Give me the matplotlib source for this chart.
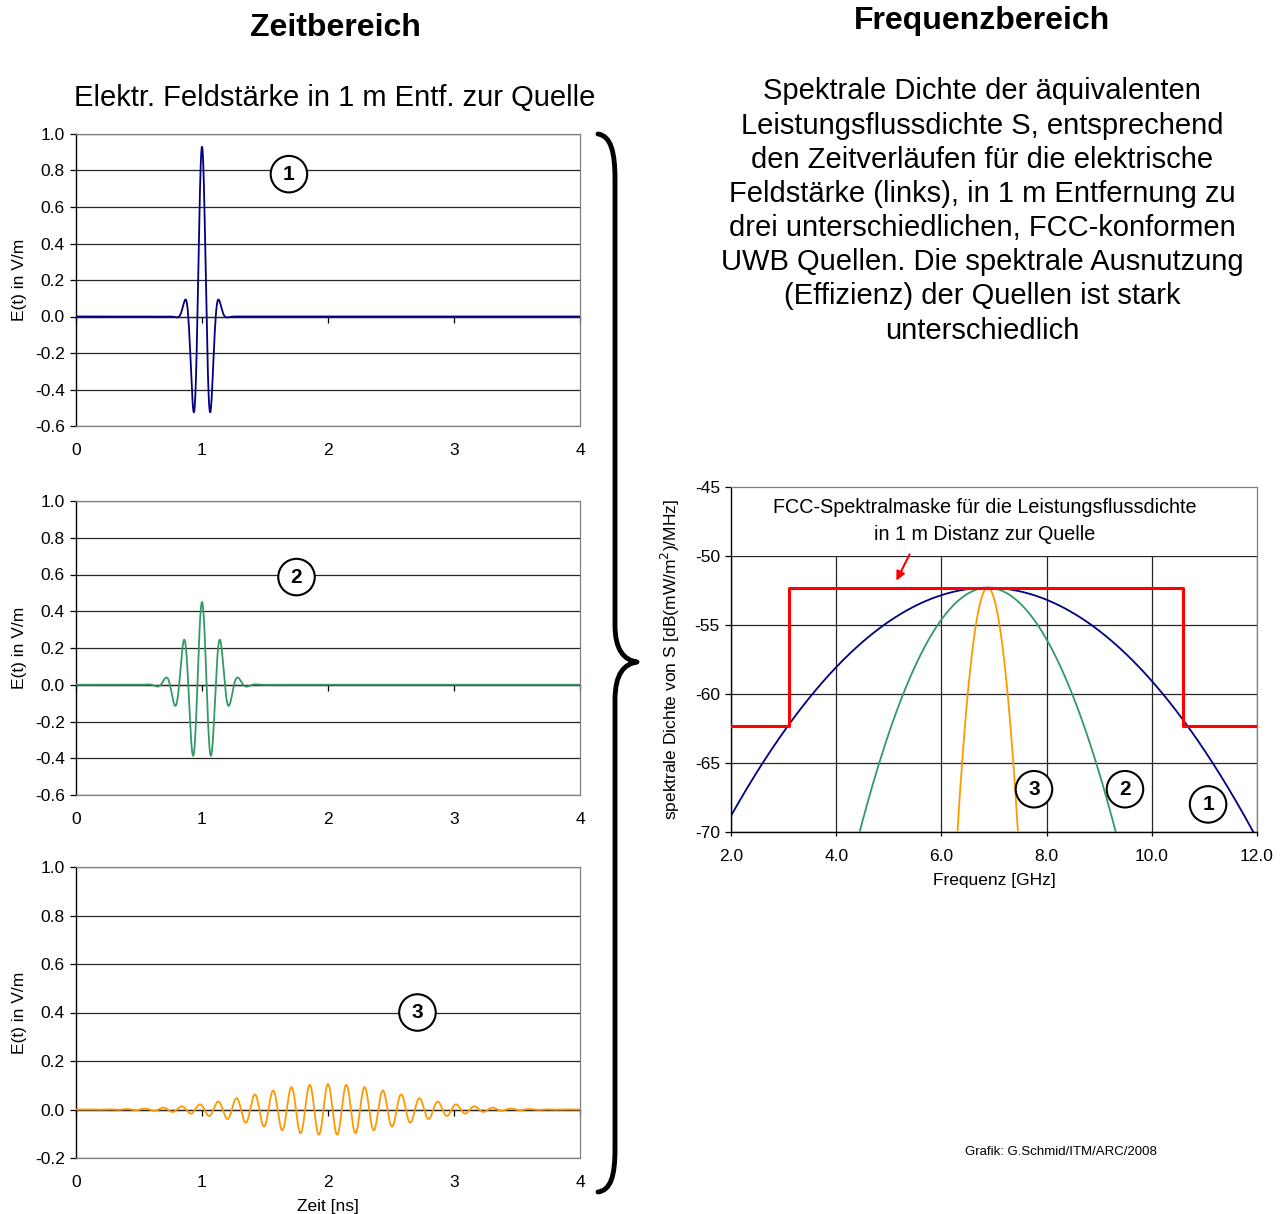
import numpy as np
import matplotlib
matplotlib.use("Agg")
import matplotlib.pyplot as plt
from matplotlib.path import Path
from matplotlib.patches import PathPatch
from matplotlib.ticker import FormatStrFormatter

plt.rcParams["font.family"] = ["Liberation Sans", "DejaVu Sans"]
plt.rcParams["axes.unicode_minus"] = False

# time-domain pulses: Gaussian-enveloped carrier
carrier_ghz = 6.88
pulse_amp = [0.93, 0.45, 0.105]        # V/m
pulse_center = [1.0, 1.0, 2.0]         # ns
pulse_sigma = [0.064, 0.13, 0.57]      # ns
pulse_ylim = [(-0.6, 1.0), (-0.6, 1.0), (-0.2, 1.0)]
pulse_labels = ["1", "2", "3"]
pulse_label_pos = [(1.69, 0.78), (1.75, 0.586), (2.71, 0.40)]
colors = ["#000080", "#339966", "#FF9900"]

# spectra (dB parabolas)
spec_peak_db = -52.3
spec_center = [6.88, 6.88, 6.88]       # GHz
spec_curv = [0.694, 2.985, 53.5]       # dB per GHz^2
spec_label_pos = [(11.07, -68.0), (9.49, -66.9), (7.76, -66.9)]

# FCC mask
mask_f = [2.0, 3.1, 3.1, 10.6, 10.6, 12.0]
mask_db = [-62.3, -62.3, -52.3, -52.3, -62.3, -62.3]

t = np.linspace(0, 4, 4001)
f = np.linspace(2, 12, 2001)

W, H = 1288, 1214
fig = plt.figure(figsize=(W / 100, H / 100), dpi=100)


def px_box(left, top, right, bottom):
    return [left / W, 1 - bottom / H, (right - left) / W, (bottom - top) / H]


def circ_label(ax, x, y, s):
    ax.text(x, y, s, ha="center", va="center", fontsize=15, fontweight="bold",
            zorder=10, bbox=dict(boxstyle="circle,pad=0.42", fc="white", ec="black", lw=1.5))


time_boxes = [(76, 134, 580, 426), (76, 501, 580, 795), (76, 867, 580, 1158)]
grid_col = "#262626"

for i in range(3):
    ax = fig.add_axes(px_box(*time_boxes[i]))
    env = np.exp(-((t - pulse_center[i]) ** 2) / (2 * pulse_sigma[i] ** 2))
    e = pulse_amp[i] * env * np.cos(2 * np.pi * carrier_ghz * (t - pulse_center[i]))
    ax.plot(t, e, color=colors[i], lw=1.3, zorder=5)
    ymin, ymax = pulse_ylim[i]
    ax.set_xlim(0, 4)
    ax.set_ylim(ymin, ymax)
    ax.set_yticks(np.arange(ymin, ymax + 0.001, 0.2))
    ax.yaxis.set_major_formatter(FormatStrFormatter("%.1f"))
    ax.set_xticks(range(5))
    ax.grid(axis="y", color=grid_col, lw=0.9)
    ax.tick_params(axis="x", length=0, pad=12, labelsize=12.5)
    ax.tick_params(axis="y", direction="out", length=4, width=0.9, pad=4, labelsize=12.5)
    for s in ["top", "right", "bottom"]:
        ax.spines[s].set_color("#808080")
        ax.spines[s].set_linewidth(0.9)
    ax.spines["left"].set_color("black")
    ax.spines["left"].set_linewidth(1.0)
    # x axis crossing at zero
    y0 = (0 - ymin) / (ymax - ymin)
    sec = ax.secondary_xaxis(y0)
    sec.set_xticks(range(5))
    sec.tick_params(direction="out", length=4, width=0.9, labelbottom=False, labeltop=False)
    sec.spines["bottom"].set_color("black")
    sec.spines["bottom"].set_linewidth(0.9)
    ax.set_ylabel("E(t) in V/m", fontsize=12.5)
    ax.yaxis.set_label_coords(-0.097, 0.5)
    circ_label(ax, *pulse_label_pos[i], pulse_labels[i])
    if i == 2:
        ax.set_xlabel("Zeit [ns]", fontsize=12.5)
        ax.xaxis.set_label_coords(0.5, -0.142)

# frequency domain
axf = fig.add_axes(px_box(731, 487, 1257, 832))
axf.plot(mask_f, mask_db, color="#FF0000", lw=2.2, zorder=6)
for i in range(3):
    s = spec_peak_db - spec_curv[i] * (f - spec_center[i]) ** 2
    axf.plot(f, s, color=colors[i], lw=1.3, zorder=5)
axf.set_xlim(2, 12)
axf.set_ylim(-70, -45)
axf.set_xticks(np.arange(2, 12.1, 2))
axf.set_yticks(np.arange(-70, -44, 5))
axf.xaxis.set_major_formatter(FormatStrFormatter("%.1f"))
axf.yaxis.set_major_formatter(FormatStrFormatter("%d"))
axf.grid(True, color=grid_col, lw=0.9)
# blank band behind the mask caption (no grid above -50 dB)
axf.axhspan(-50, -45, color="white", lw=0, zorder=2)
axf.tick_params(axis="x", direction="out", length=3, width=0.9, pad=9, labelsize=12.5)
axf.tick_params(axis="y", direction="out", length=4, width=0.9, pad=4, labelsize=12.5)
for s in ["top", "right"]:
    axf.spines[s].set_color("#808080")
    axf.spines[s].set_linewidth(0.9)
for s in ["left", "bottom"]:
    axf.spines[s].set_color("black")
    axf.spines[s].set_linewidth(1.0)
axf.set_xlabel("Frequenz [GHz]", fontsize=12.5)
axf.xaxis.set_label_coords(0.5, -0.118)
axf.set_ylabel("spektrale Dichte von S [dB(mW/m$^2$)/MHz]", fontsize=12.5)
axf.yaxis.set_label_coords(-0.093, 0.5)
axf.text(0.483, 0.902, "FCC-Spektralmaske für die Leistungsflussdichte\nin 1 m Distanz zur Quelle",
         transform=axf.transAxes, ha="center", va="center", fontsize=14.2,
         linespacing=1.55, zorder=7)
axf.annotate("", xy=(5.12, -51.96), xytext=(5.42, -49.7),
             arrowprops=dict(arrowstyle="-|>", color="#FF0000", lw=1.5, mutation_scale=13), zorder=8)
for i in range(3):
    circ_label(axf, *spec_label_pos[i], pulse_labels[i])

# titles and texts
fig.text(335 / W, 1 - 28 / H, "Zeitbereich", ha="center", va="center", fontsize=23, fontweight="bold")
fig.text(982 / W, 1 - 21 / H, "Frequenzbereich", ha="center", va="center", fontsize=23, fontweight="bold")
fig.text(335 / W, 1 - 98 / H, "Elektr. Feldstärke in 1 m Entf. zur Quelle", ha="center", va="center", fontsize=21)
fig.text(982 / W, 1 - 211 / H,
         "Spektrale Dichte der äquivalenten\nLeistungsflussdichte S, entsprechend\n"
         "den Zeitverläufen für die elektrische\nFeldstärke (links), in 1 m Entfernung zu\n"
         "drei unterschiedlichen, FCC-konformen\nUWB Quellen. Die spektrale Ausnutzung\n"
         "(Effizienz) der Quellen ist stark\nunterschiedlich",
         ha="center", va="center", fontsize=21, linespacing=1.28)
fig.text(1061 / W, 1 - 1152 / H, "Grafik: G.Schmid/ITM/ARC/2008", ha="center", va="center",
         fontsize=9.5)

# curly brace
pts = [(598, 134), (611, 136), (615, 152), (615, 180),
       (615, 625), (615, 650), (624, 660), (637, 662),
       (624, 664), (615, 674), (615, 700),
       (615, 1148), (615, 1176), (611, 1190), (598, 1192)]
codes = [Path.MOVETO, Path.CURVE4, Path.CURVE4, Path.CURVE4,
         Path.LINETO, Path.CURVE4, Path.CURVE4, Path.CURVE4,
         Path.CURVE4, Path.CURVE4, Path.CURVE4,
         Path.LINETO, Path.CURVE4, Path.CURVE4, Path.CURVE4]
brace = Path([(x / W, 1 - y / H) for x, y in pts], codes)
fig.patches.append(PathPatch(brace, transform=fig.transFigure, fc="none", ec="black",
                             lw=3.5, capstyle="round", joinstyle="round"))

fig.savefig("out.png", dpi=100)
